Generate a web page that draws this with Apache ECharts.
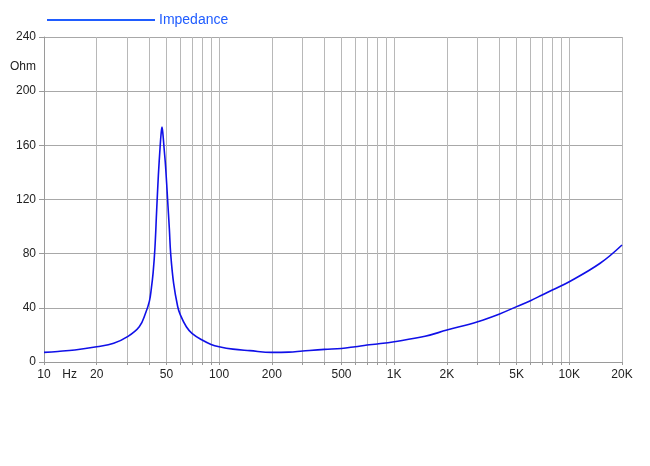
<!DOCTYPE html>
<html>
<head>
<meta charset="utf-8">
<script src="https://cdn.jsdelivr.net/npm/echarts@6/dist/echarts.min.js"></script>
<style>
  html, body { margin: 0; padding: 0; background: #fff; }
  #chart { width: 650px; height: 466px; }
</style>
</head>
<body>
<div id="chart"></div>
<script>
// frequency (Hz) and impedance (Ohm)
const freqs = [10, 12, 15, 20, 25, 30, 35, 38, 40, 41, 42, 43, 44, 45, 46, 46.6, 47.2, 47.8, 48.5, 49.5,
  50.8, 52, 52.9, 55, 58, 60, 65, 70, 80, 90, 100, 120, 150, 200, 250, 300, 400, 500, 600, 700, 800,
  1000, 1500, 2000, 3000, 4000, 5000, 6000, 7000, 8000, 10000, 15000, 20000];
const impedance = [7.1, 7.8, 8.9, 11.3, 13.8, 18.7, 26, 36, 45, 54, 66, 84, 112, 138, 158, 168, 173.5, 168, 158, 144,
  120, 98, 80, 58, 41, 35, 26, 21.2, 16.2, 13, 11.3, 9.5, 8.4, 7.1, 7.3, 8.1, 9.3, 10, 11.3, 12.5, 13.3,
  15, 19, 23.6, 29.8, 35.5, 40.9, 45.3, 49.5, 53.2, 59.3, 72.9, 86.4];

const xGridValues = [10, 20, 30, 40, 50, 60, 70, 80, 90, 100, 200, 300, 400, 500, 600, 700, 800, 900,
  1000, 2000, 3000, 4000, 5000, 6000, 7000, 8000, 9000, 10000, 20000];
const xLabelValues = [10, 14, 20, 50, 100, 200, 500, 1000, 2000, 5000, 10000, 20000];
const yTickValues = [0, 40, 80, 120, 160, 200, 240];
const yLabelValues = [0, 40, 80, 120, 160, 200, 218, 240];

const font = 'Liberation Sans, Arial, sans-serif';
const chart = echarts.init(document.getElementById('chart'));

chart.setOption({
  animation: false,
  backgroundColor: '#fff',
  grid: { left: 44, right: 28, top: 37, bottom: 104 },
  legend: {
    left: 42,
    top: 8,
    itemWidth: 108,
    itemHeight: 2,
    itemGap: 4,
    icon: 'rect',
    textStyle: { color: '#1f5cff', fontSize: 14, fontFamily: font, padding: [0, 0, 0, -1] },
    data: ['Impedance']
  },
  xAxis: {
    type: 'log',
    logBase: 10,
    min: 10,
    max: 20000,
    axisLine: { show: true, lineStyle: { color: '#9a9a9a', width: 1 } },
    axisTick: { show: true, length: 3, customValues: xGridValues, lineStyle: { color: '#9a9a9a' } },
    splitLine: { show: true, lineStyle: { color: '#b8b8b8', width: 1 } },
    minorTick: { show: false },
    minorSplitLine: { show: false },
    axisLabel: {
      customValues: xLabelValues,
      color: '#222',
      fontSize: 12,
      fontFamily: font,
      margin: 7,
      formatter: function (v) {
        if (Math.abs(v - 14) < 0.5) return 'Hz';
        if (v >= 1000) return Math.round(v / 1000) + 'K';
        return String(Math.round(v));
      }
    }
  },
  yAxis: {
    type: 'value',
    min: 0,
    max: 240,
    interval: 40,
    axisLine: { show: true, lineStyle: { color: '#9a9a9a', width: 1 } },
    axisTick: { show: true, length: 5, customValues: yTickValues, lineStyle: { color: '#9a9a9a' } },
    splitLine: { show: true, lineStyle: { color: '#a8a8a8', width: 1 } },
    axisLabel: {
      customValues: yLabelValues,
      color: '#222',
      fontSize: 12,
      fontFamily: font,
      margin: 8,
      formatter: function (v) { return v === 218 ? 'Ohm' : String(v); }
    }
  },
  series: [{
    name: 'Impedance',
    type: 'line',
    data: freqs.map((f, i) => [f, impedance[i]]),
    showSymbol: false,
    smooth: 0.4,
    itemStyle: { color: '#1f5cff' },
    lineStyle: { color: '#1010e8', width: 1.6 }
  }]
});
</script>
</body>
</html>
